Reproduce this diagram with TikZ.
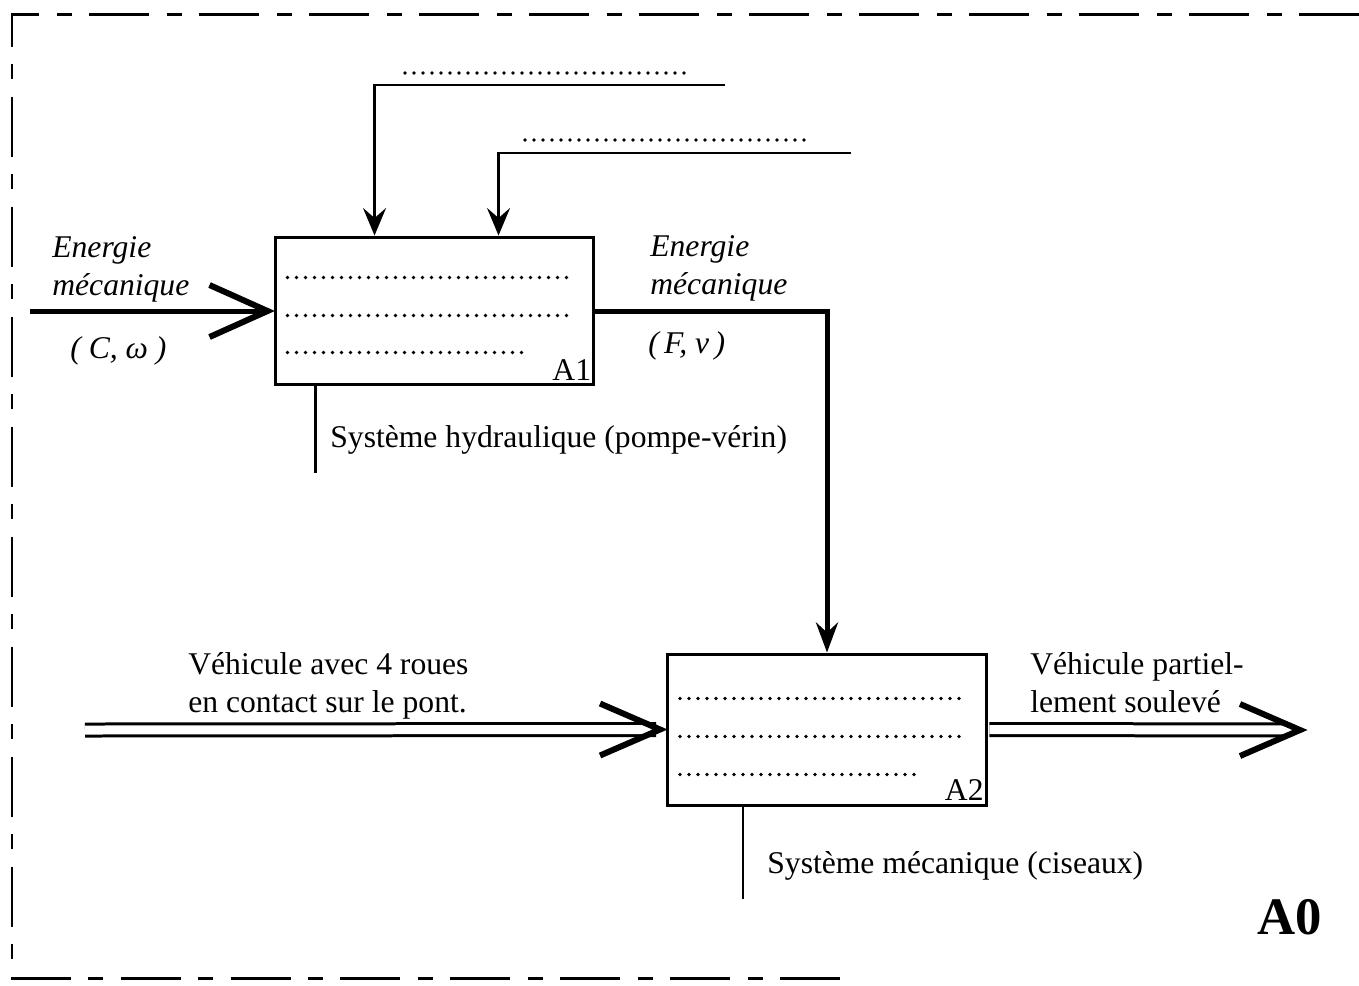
\documentclass[tikz,border=0pt]{standalone}
\usepackage{fontspec}
\setmainfont{Liberation Serif}
\usetikzlibrary{arrows.meta,positioning,calc}

\tikzset{
  fbox/.style={draw, line width=0.06cm, minimum width=6.38cm, minimum height=2.96cm, inner sep=0pt},
  dots/.style={line width=0.075cm, line cap=round, dash pattern=on 0pt off 0.18cm},
  thinline/.style={line width=0.05cm},
  ctrl/.style={line width=0.05cm, -{Stealth[length=0.55cm, width=0.46cm, inset=0.2cm]}},
  flow/.style={line width=0.1cm},
  dflow/.style={double, line width=0.06cm, double distance=0.18cm},
  chev/.style={line width=0.12cm, line join=miter},
  lbl/.style={font=\fontsize{18}{21.6}\selectfont, inner sep=0pt, align=left},
  ilbl/.style={lbl, font=\fontsize{18}{21.6}\selectfont\itshape},
  frame/.style={line width=0.06cm, dash pattern=on 1.2cm off 0.35cm on 0.3cm off 0.35cm}
}

\begin{document}
\begin{tikzpicture}[x=0.02cm, y=-0.02cm]
  \useasboundingbox (0,0) rectangle (1359,985);

  % Frame
  \draw[frame] (1359,14) -- (12,14) -- (12,978) -- (840,978);

  % Function boxes
  \node[fbox] (a1) at (434.5,311) {};
  \node[fbox, minimum height=3.02cm] (a2) at (827,729.5) {};

  % Dotted text rows inside the boxes
  \foreach \yy/\len in {42/279, 80/279, 117/239}
    \draw[dots] ($(a1.north west)+(14,\yy)$) -- ++(\len,0);
  \foreach \yy/\len in {46/280, 84/280, 122/241}
    \draw[dots] ($(a2.north west)+(14,\yy)$) -- ++(\len,0);
  \node[lbl, anchor=south east] (a1id) at ($(a1.south east)+(-4,-6)$) {A1};
  \node[lbl, anchor=south east] (a2id) at ($(a2.south east)+(-4,-6)$) {A2};

  % Controls of A1
  \coordinate (c1) at (725,85);
  \coordinate (c2) at (851,153);
  \draw[ctrl] (c1) -| ($(a1.north west)+(101,0)$);
  \draw[ctrl] (c2) -| ($(a1.north west)+(225,0)$);
  \draw[dots] (405,73) -- (685,73);
  \draw[dots] (525,140) -- (806,140);

  % Input of A1
  \coordinate (e1) at (30,311);
  \draw[flow, shorten >=0.1cm] (e1) -- (a1.west);
  \draw[chev] ($(a1.west)+(-64,-26)$) -- ($(a1.west)+(-6,0)$) -- ($(a1.west)+(-64,26)$);
  \node[ilbl, anchor=north west] (ein) at (52,236) {Energie\\mécanique};
  \node[ilbl, anchor=base west] (cw) at (70,358) {( C, ω )};

  % A1 to A2
  \draw[flow, -{Stealth[length=0.6cm, width=0.44cm, inset=0.2cm]}] (a1.east) -| (a2.north);
  \node[ilbl, anchor=north west] (eout) at (650,235) {Energie\\mécanique};
  \node[ilbl, anchor=base west] (fv) at (648,353) {(\,F, v\,)};

  % Mechanisms
  \draw[thinline] ($(a1.south west)+(42,0)$) -- ++(0,87);
  \node[lbl, anchor=base west] (m1) at (330,447) {Système hydraulique (pompe-vérin)};
  \draw[thinline] ($(a2.south west)+(77,0)$) -- ++(0,92);
  \node[lbl, anchor=base west] (m2) at (767,873) {Système mécanique (ciseaux)};

  % Input of A2
  \coordinate (v1) at (85,730);
  \draw[dflow, shorten >=0.2cm] (v1) -- (a2.west);
  \draw[chev] ($(a2.west)+(-66,-26)$) -- ($(a2.west)+(-6,0)$) -- ($(a2.west)+(-66,26)$);
  \node[lbl, anchor=north west] (vin) at (188,652) {Véhicule avec 4 roues\\en contact sur le pont.};

  % Output of A2
  \coordinate (v2) at (1300,730);
  \draw[dflow, shorten <=0.03cm, shorten >=0.2cm] (a2.east) -- (v2);
  \draw[chev] ($(v2)+(-60,-26)$) -- (v2) -- ($(v2)+(-60,26)$);
  \node[lbl, anchor=north west] (vout) at (1030,652) {Véhicule partiel-\\lement soulevé};

  % Diagram number
  \node[font=\bfseries\fontsize{30}{36}\selectfont, inner sep=0pt] (a0) at (1290,917) {A0};
\end{tikzpicture}
\end{document}
